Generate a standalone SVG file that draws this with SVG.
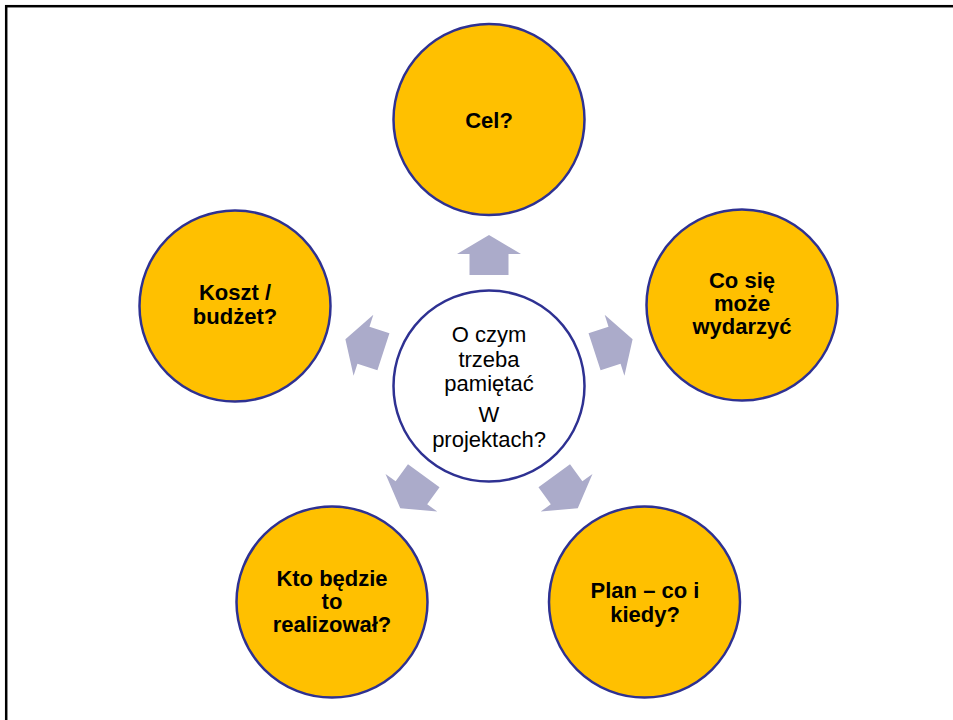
<svg xmlns="http://www.w3.org/2000/svg" width="953" height="720" viewBox="0 0 953 720">
<style>
.node{fill:#FFC000;stroke:#2E3192;stroke-width:2.5}
.center{fill:#FFFFFF;stroke:#2E3192;stroke-width:2.5}
.lbl{font-family:"Liberation Sans",Arial,sans-serif;font-size:22px;font-weight:bold;fill:#000;text-anchor:middle}
.clbl{font-family:"Liberation Sans",Arial,sans-serif;font-size:22px;fill:#000;text-anchor:middle}
.arrow{fill:#ABABCA}
</style>
<defs>
<polygon id="arr" points="0,-151 32,-132 19.5,-132 19.5,-111 -19.5,-111 -19.5,-132 -32,-132"/>
</defs>
<rect x="6.2" y="6.2" width="1000" height="800" fill="none" stroke="#000" stroke-width="2.5"/>
<g id="connectors" class="arrow">
<use href="#arr" transform="translate(489,386)"/>
<use href="#arr" transform="translate(489,386) rotate(72)"/>
<use href="#arr" transform="translate(489,386) rotate(144)"/>
<use href="#arr" transform="translate(489,386) rotate(216)"/>
<use href="#arr" transform="translate(489,386) rotate(288)"/>
</g>
<g id="center">
<circle class="center" cx="489" cy="386" r="95.5"/>
<text class="clbl" x="489" y="341.7">O czym</text>
<text class="clbl" x="489" y="366.7">trzeba</text>
<text class="clbl" x="489" y="390.7">pamiętać</text>
<text class="clbl" x="489" y="421.7">W</text>
<text class="clbl" x="489" y="446.7">projektach?</text>
</g>
<g id="cel">
<circle class="node" cx="489" cy="119.5" r="95.5"/>
<text class="lbl" x="489" y="128">Cel?</text>
</g>
<g id="co-sie">
<circle class="node" cx="742" cy="305" r="95.5"/>
<text class="lbl" x="742" y="288">Co się</text>
<text class="lbl" x="742" y="311">może</text>
<text class="lbl" x="742" y="334">wydarzyć</text>
</g>
<g id="plan">
<circle class="node" cx="644.5" cy="602" r="95.5"/>
<text class="lbl" x="645" y="598">Plan – co i</text>
<text class="lbl" x="645" y="622">kiedy?</text>
</g>
<g id="kto">
<circle class="node" cx="332" cy="602" r="95.5"/>
<text class="lbl" x="332" y="586">Kto będzie</text>
<text class="lbl" x="332" y="609">to</text>
<text class="lbl" x="332" y="632">realizował?</text>
</g>
<g id="koszt">
<circle class="node" cx="235" cy="306" r="95.5"/>
<text class="lbl" x="235" y="300">Koszt /</text>
<text class="lbl" x="235" y="323.5">budżet?</text>
</g>
</svg>
